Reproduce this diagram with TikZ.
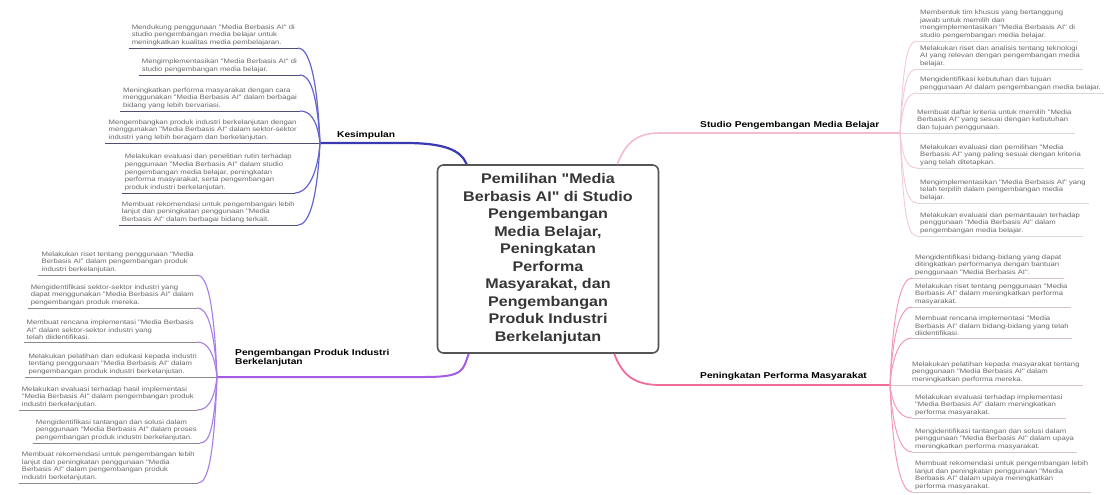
\documentclass[tikz,border=0pt]{standalone}
\usepackage{fontspec}
\setmainfont{Liberation Sans}
\newfontfamily\leaffont[FakeStretch=1.2]{Liberation Sans}
\newfontfamily\boxfont[FakeStretch=1.15]{Liberation Sans}
\usetikzlibrary{calc}
\definecolor{kesmain}{HTML}{3A3AB0}
\definecolor{kescurve}{HTML}{6464D2}
\definecolor{kesline}{HTML}{4E4E6E}
\definecolor{promain}{HTML}{A45CE6}
\definecolor{procurve}{HTML}{A77CE8}
\definecolor{proline}{HTML}{8A8A8A}
\definecolor{stumain}{HTML}{F2BECB}
\definecolor{stucurve}{HTML}{F3C9D4}
\definecolor{stuline}{HTML}{D8D8D8}
\definecolor{penmain}{HTML}{F06C9B}
\definecolor{pencurve}{HTML}{F39ABB}
\definecolor{penline}{HTML}{D9C3CB}
\definecolor{leaftext}{HTML}{6A6A6A}
\definecolor{boxtext}{HTML}{363636}
\definecolor{boxborder}{HTML}{555555}
\tikzset{
  leaf/.style={font=\leaffont\fontsize{6.4}{7.7}\selectfont, text=leaftext, align=left, inner xsep=3pt, inner ysep=2pt},
  leafL/.style={leaf, anchor=south east},
  leafR/.style={leaf, anchor=south west},
  lbl/.style={font=\leaffont\bfseries\fontsize{8.5}{8.5}\selectfont, text=black, inner sep=0pt, anchor=base west},
  centerbox/.style={draw=boxborder, line width=1.6pt, rounded corners=6pt, fill=white,
    minimum width=221pt, minimum height=188pt, align=center, text=boxtext,
    font=\boxfont\bfseries\fontsize{14}{17.5}\selectfont},
  kmain/.style={draw=kesmain, line width=2.2pt},
  pmain/.style={draw=promain, line width=2pt},
  smain/.style={draw=stumain, line width=1.6pt},
  mmain/.style={draw=penmain, line width=1.8pt},
  kcurve/.style={draw=kescurve, line width=1.2pt},
  pcurve/.style={draw=procurve, line width=1.1pt},
  scurve/.style={draw=stucurve, line width=0.9pt},
  mcurve/.style={draw=pencurve, line width=1pt},
  kul/.style={draw=kesline, line width=0.9pt},
  pul/.style={draw=proline, line width=0.8pt},
  sul/.style={draw=stuline, line width=0.7pt},
  mul/.style={draw=penline, line width=0.7pt},
}
\begin{document}
\begin{tikzpicture}[x=1pt,y=-1pt]
\fill[white] (0,0) rectangle (1112,495);
\useasboundingbox (0,0) rectangle (1112,495);

% centre
\node[centerbox] (c) at (548,259) {Pemilihan "Media\\Berbasis AI" di Studio\\Pengembangan\\Media Belajar,\\Peningkatan\\Performa\\Masyarakat, dan\\Pengembangan\\Produk Industri\\Berkelanjutan};

% junctions
\coordinate (J1) at (320,143);
\coordinate (J2) at (217,377);
\coordinate (J3) at (900,133);
\coordinate (J4) at (890,385);

% main branches
\draw[kmain] (J1) -- (405,143) .. controls +(40,0) and +(-6,-14) .. ($(c.north west)+(30,0)$);
\draw[pmain] ($(c.south west)+(32,0)$) .. controls +(-6,16) and +(40,0) .. (425,377) -- (J2);
\draw[smain] ($(c.north east)+(-42,0)$) .. controls +(8,-20) and +(-25,0) .. (660,133) -- (J3);
\draw[mmain] ($(c.south east)+(-45,0)$) .. controls +(8,22) and +(-25,0) .. (660,385) -- (J4);

% labels
\node[lbl] (kl) at (337,137) {Kesimpulan};
\node[lbl] (sl) at (700,128) {Studio Pengembangan Media Belajar};
\node[lbl] (ml) at (700,378) {Peningkatan Performa Masyarakat};
\node[lbl, anchor=north west, align=left, font=\leaffont\bfseries\fontsize{8.5}{9}\selectfont] (pl) at (235,349) {Pengembangan Produk Industri\\Berkelanjutan};

% Kesimpulan leaves
\node[leafL] (k1) at (298,48) {Mendukung penggunaan "Media Berbasis AI" di\\studio pengembangan media belajar untuk\\meningkatkan kualitas media pembelajaran.};
\node[leafL] (k2) at (300,75) {Mengimplementasikan "Media Berbasis AI" di\\studio pengembangan media belajar.};
\node[leafL] (k3) at (300,111) {Meningkatkan performa masyarakat dengan cara\\menggunakan "Media Berbasis AI" dalam berbagai\\bidang yang lebih bervariasi.};
\node[leafL] (k4) at (300,143) {Mengembangkan produk industri berkelanjutan dengan\\menggunakan "Media Berbasis AI" dalam sektor-sektor\\industri yang lebih beragam dan berkelanjutan.};
\node[leafL] (k5) at (295,193) {Melakukan evaluasi dan penelitian rutin terhadap\\penggunaan "Media Berbasis AI" dalam studio\\pengembangan media belajar, peningkatan\\performa masyarakat, serta pengembangan\\produk industri berkelanjutan.};
\node[leafL] (k6) at (298,225) {Membuat rekomendasi untuk pengembangan lebih\\lanjut dan peningkatan penggunaan "Media\\Berbasis AI" dalam berbagai bidang terkait.};
\foreach \n in {k1,k2,k3,k5,k6} \draw[kul] (\n.south west) -- (\n.south east);
\draw[kul] (k4.south west) -- (J1);
\draw[kcurve] (k1.south east) .. controls +(10,0) and +(-3,-71) .. (J1);
\draw[kcurve] (k2.south east) .. controls +(10,0) and +(-3,-51) .. (J1);
\draw[kcurve] (k3.south east) .. controls +(10,0) and +(-3,-24) .. (J1);
\draw[kcurve] (k5.south east) .. controls +(10,0) and +(-3,37) .. (J1);
\draw[kcurve] (k6.south east) .. controls +(10,0) and +(-3,61) .. (J1);

% Pengembangan Produk leaves
\node[leafL] (p1) at (197,275) {Melakukan riset tentang penggunaan "Media\\Berbasis AI" dalam pengembangan produk\\industri berkelanjutan.};
\node[leafL] (p2) at (197,308) {Mengidentifikasi sektor-sektor industri yang\\dapat menggunakan "Media Berbasis AI" dalam\\pengembangan produk mereka.};
\node[leafL] (p3) at (197,342) {Membuat rencana implementasi "Media Berbasis\\AI" dalam sektor-sektor industri yang\\telah diidentifikasi.};
\node[leafL] (p4) at (200,377) {Melakukan pelatihan dan edukasi kepada industri\\tentang penggunaan "Media Berbasis AI" dalam\\pengembangan produk industri berkelanjutan.};
\node[leafL] (p5) at (197,410) {Melakukan evaluasi terhadap hasil implementasi\\"Media Berbasis AI" dalam pengembangan produk\\industri berkelanjutan.};
\node[leafL] (p6) at (200,443) {Mengidentifikasi tantangan dan solusi dalam\\penggunaan "Media Berbasis AI" dalam proses\\pengembangan produk industri berkelanjutan.};
\node[leafL] (p7) at (198,483) {Membuat rekomendasi untuk pengembangan lebih\\lanjut dan peningkatan penggunaan "Media\\Berbasis AI" dalam pengembangan produk\\industri berkelanjutan.};
\foreach \n in {p1,p2,p3,p5,p6,p7} \draw[pul] (\n.south west) -- (\n.south east);
\draw[pul] (p4.south west) -- (J2);
\draw[pcurve] (p1.south east) .. controls +(10,0) and +(-3,-76) .. (J2);
\draw[pcurve] (p2.south east) .. controls +(10,0) and +(-3,-52) .. (J2);
\draw[pcurve] (p3.south east) .. controls +(10,0) and +(-3,-26) .. (J2);
\draw[pcurve] (p5.south east) .. controls +(10,0) and +(-3,25) .. (J2);
\draw[pcurve] (p6.south east) .. controls +(10,0) and +(-3,50) .. (J2);
\draw[pcurve] (p7.south east) .. controls +(10,0) and +(-3,80) .. (J2);

% Studio leaves
\node[leafR] (s1) at (917,41) {Membentuk tim khusus yang bertanggung\\jawab untuk memilih dan\\mengimplementasikan "Media Berbasis AI" di\\studio pengembangan media belajar.};
\node[leafR] (s2) at (917,69) {Melakukan riset dan analisis tentang teknologi\\AI yang relevan dengan pengembangan media\\belajar.};
\node[leafR] (s3) at (917,93) {Mengidentifikasi kebutuhan dan tujuan\\penggunaan AI dalam pengembangan media belajar.};
\node[leafR] (s4) at (914,133) {Membuat daftar kriteria untuk memilih "Media\\Berbasis AI" yang sesuai dengan kebutuhan\\dan tujuan penggunaan.};
\node[leafR] (s5) at (917,168) {Melakukan evaluasi dan pemilihan "Media\\Berbasis AI" yang paling sesuai dengan kriteria\\yang telah ditetapkan.};
\node[leafR] (s6) at (917,203) {Mengimplementasikan "Media Berbasis AI" yang\\telah terpilih dalam pengembangan media\\belajar.};
\node[leafR] (s7) at (917,236) {Melakukan evaluasi dan pemantauan terhadap\\penggunaan "Media Berbasis AI" dalam\\pengembangan media belajar.};
\foreach \n in {s1,s2,s3,s5,s6,s7} \draw[sul] (\n.south west) -- (\n.south east);
\draw[sul] (J3) -- (s4.south east);
\draw[scurve] (J3) .. controls +(3,-69) and +(-10,0) .. (s1.south west);
\draw[scurve] (J3) .. controls +(3,-48) and +(-10,0) .. (s2.south west);
\draw[scurve] (J3) .. controls +(3,-30) and +(-10,0) .. (s3.south west);
\draw[scurve] (J3) .. controls +(3,26) and +(-10,0) .. (s5.south west);
\draw[scurve] (J3) .. controls +(3,52) and +(-10,0) .. (s6.south west);
\draw[scurve] (J3) .. controls +(3,77) and +(-10,0) .. (s7.south west);

% Peningkatan leaves
\node[leafR] (m1) at (912,278) {Mengidentifikasi bidang-bidang yang dapat\\ditingkatkan performanya dengan bantuan\\penggunaan "Media Berbasis AI".};
\node[leafR] (m2) at (912,307) {Melakukan riset tentang penggunaan "Media\\Berbasis AI" dalam meningkatkan performa\\masyarakat.};
\node[leafR] (m3) at (912,338) {Membuat rencana implementasi "Media\\Berbasis AI" dalam bidang-bidang yang telah\\diidentifikasi.};
\node[leafR] (m4) at (909,385) {Melakukan pelatihan kepada masyarakat tentang\\penggunaan "Media Berbasis AI" dalam\\meningkatkan performa mereka.};
\node[leafR] (m5) at (912,418) {Melakukan evaluasi terhadap implementasi\\"Media Berbasis AI" dalam meningkatkan\\performa masyarakat.};
\node[leafR] (m6) at (912,452) {Mengidentifikasi tantangan dan solusi dalam\\penggunaan "Media Berbasis AI" dalam upaya\\meningkatkan performa masyarakat.};
\node[leafR] (m7) at (912,492) {Membuat rekomendasi untuk pengembangan lebih\\lanjut dan peningkatan penggunaan "Media\\Berbasis AI" dalam upaya meningkatkan\\performa masyarakat.};
\foreach \n in {m1,m2,m3,m5,m6,m7} \draw[mul] (\n.south west) -- (\n.south east);
\draw[mul] (J4) -- (m4.south east);
\draw[mcurve] (J4) .. controls +(3,-80) and +(-10,0) .. (m1.south west);
\draw[mcurve] (J4) .. controls +(3,-59) and +(-10,0) .. (m2.south west);
\draw[mcurve] (J4) .. controls +(3,-35) and +(-10,0) .. (m3.south west);
\draw[mcurve] (J4) .. controls +(3,25) and +(-10,0) .. (m5.south west);
\draw[mcurve] (J4) .. controls +(3,50) and +(-10,0) .. (m6.south west);
\draw[mcurve] (J4) .. controls +(3,80) and +(-10,0) .. (m7.south west);
\end{tikzpicture}
\end{document}
